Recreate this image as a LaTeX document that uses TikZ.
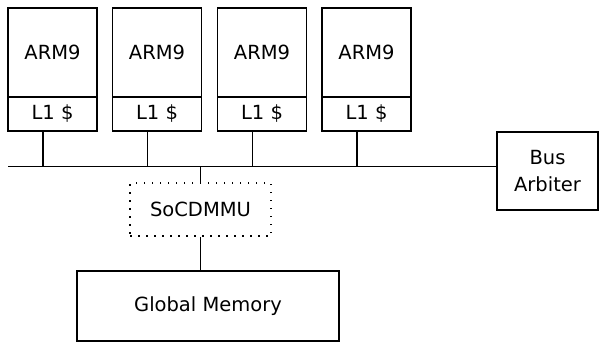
\documentclass[tikz,border=0pt]{standalone}
\usepackage{fontspec}
\setmainfont{DejaVu Sans}
\usepackage{tikz}

\tikzset{
  blk/.style={draw, line width=1.6pt, inner sep=0pt, font=\fontsize{19.5}{27}\selectfont, align=center},
  mmu/.style={draw, line width=1.8pt, dash pattern=on 1.5pt off 6.5pt, inner sep=0pt, font=\fontsize{19.5}{27}\selectfont},
  wire/.style={line width=1.6pt}
}

\begin{document}
\begin{tikzpicture}[x=1pt,y=-1pt]
            \useasboundingbox (0,0) rectangle (600,343);
            % processors with their caches
            \foreach \i/\x in {1/52.5,2/157,3/262,4/366.5} {
                \node[blk, minimum width=89pt, minimum height=89pt] at (\x,52.5) (cpu\i) {ARM9};
                \node[blk, minimum width=89pt, minimum height=34pt] at (\x,114) (l\i) {L1 \$};
            }
            \node[blk, minimum width=101pt, minimum height=78pt] at (547.5,171) (arb) {Bus\\Arbiter};
            \node[mmu, minimum width=141pt, minimum height=53pt] at (200.5,209.5) (mmu) {SoCDMMU};
            \node[blk, minimum width=262pt, minimum height=70pt] at (208,306) (gm) {Global Memory};
            \coordinate (bus) at (8,166.5);
            % shared bus
            \draw[wire] (bus) -- (bus -| arb.west);
            \foreach \i in {1,...,4}
                \draw[wire] ([xshift=-9.5pt]l\i.south) -- ([xshift=-9.5pt]l\i.south |- bus);
            \draw[wire] (mmu.north) -- (mmu.north |- bus);
            \draw[wire] (mmu.south) -- (gm.north -| mmu.south);
        \end{tikzpicture}
\end{document}
